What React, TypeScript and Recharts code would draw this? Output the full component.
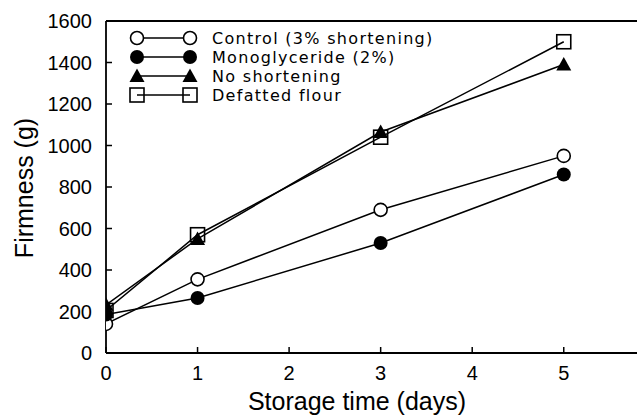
import React from "react";
import { Legend, Line, LineChart, ReferenceLine, XAxis, YAxis } from "recharts";

// storage time (days) and firmness (g) per formulation
const days = [0, 1, 3, 5];
const control = [140, 355, 690, 950];
const monoglyceride = [185, 265, 530, 860];
const noShortening = [232, 550, 1065, 1390];
const defatted = [205, 570, 1040, 1500];

const xTicks = [0, 1, 2, 3, 4, 5];
const yTicks = [0, 200, 400, 600, 800, 1000, 1200, 1400, 1600];

const seriesNames = [
  "Control (3% shortening)",
  "Monoglyceride (2%)",
  "No shortening",
  "Defatted flour",
];

const data = days.map((d, i) => ({
  day: d,
  control: control[i],
  mono: monoglyceride[i],
  none: noShortening[i],
  defatted: defatted[i],
}));

const FONT = "'Liberation Sans', Arial, sans-serif";
const LEGEND_FONT = "'DejaVu Sans', sans-serif";
const INK = "#000";

type Mark = "openCircle" | "filledCircle" | "triangle" | "square";
const marks: Mark[] = ["openCircle", "filledCircle", "triangle", "square"];

function Marker({ kind, cx, cy }: { kind: Mark; cx: number; cy: number }) {
  if (cx == null || cy == null) return null;
  switch (kind) {
    case "openCircle":
      return <circle cx={cx} cy={cy} r={6.5} fill="#fff" stroke={INK} strokeWidth={1.6} />;
    case "filledCircle":
      return <circle cx={cx} cy={cy} r={7} fill={INK} />;
    case "triangle":
      return (
        <polygon
          points={`${cx},${cy - 7.5} ${cx - 7.5},${cy + 6} ${cx + 7.5},${cy + 6}`}
          fill={INK}
        />
      );
    default:
      return (
        <rect x={cx - 7} y={cy - 7} width={14} height={14} fill="none" stroke={INK} strokeWidth={1.6} />
      );
  }
}

const dotFor = (kind: Mark) => (p: any) => (
  <Marker key={`${kind}-${p.index}`} kind={kind} cx={p.cx} cy={p.cy} />
);

const rowY = [10, 29, 48, 67];

function LegendBox() {
  return (
    <svg width={340} height={80} style={{ display: "block" }}>
      {seriesNames.map((name, i) => (
        <g key={name}>
          <line x1={12} x2={65} y1={rowY[i]} y2={rowY[i]} stroke={INK} strokeWidth={1.5} />
          <Marker kind={marks[i]} cx={12} cy={rowY[i]} />
          <Marker kind={marks[i]} cx={65} cy={rowY[i]} />
          <text
            x={87}
            y={rowY[i] + 6}
            fontSize={16}
            letterSpacing={1.3}
            fontFamily={LEGEND_FONT}
            fill={INK}
          >
            {name}
          </text>
        </g>
      ))}
    </svg>
  );
}

const tickStyle = { fill: INK, fontSize: 20, fontFamily: FONT };

export default function App() {
  return (
    <div style={{ position: "absolute", left: 0, top: 0, background: "#fff", fontFamily: FONT }}>
      <LineChart width={637} height={415} data={data} margin={{ top: 21, right: 0, bottom: 0, left: 0 }}>
        <XAxis
          dataKey="day"
          type="number"
          domain={[0, 5.8]}
          ticks={xTicks}
          allowDataOverflow
          height={62}
          axisLine={{ stroke: INK, strokeWidth: 1.8 }}
          tickLine={{ stroke: INK, strokeWidth: 1.5 }}
          tickSize={-6}
          tickMargin={19}
          tick={tickStyle}
          label={{
            content: () => (
              <text x={357} y={410} textAnchor="middle" fontSize={25} fontFamily={FONT} fill={INK}>
                Storage time (days)
              </text>
            ),
          }}
        />
        <YAxis
          type="number"
          domain={[0, 1600]}
          ticks={yTicks}
          width={106}
          axisLine={{ stroke: INK, strokeWidth: 1.8 }}
          tickLine={{ stroke: INK, strokeWidth: 1.5 }}
          tickSize={-6}
          tickMargin={20}
          tick={tickStyle}
          label={{
            content: () => (
              <text
                x={24}
                y={188}
                transform="rotate(-90, 24, 188)"
                textAnchor="middle"
                dominantBaseline="central"
                fontSize={25}
                fontFamily={FONT}
                fill={INK}
              >
                Firmness (g)
              </text>
            ),
          }}
        />
        <ReferenceLine y={1600} stroke={INK} strokeWidth={1.8} ifOverflow="extendDomain" />
        <Legend
          layout="vertical"
          align="center"
          verticalAlign="middle"
          wrapperStyle={{ position: "absolute", left: 125, top: 28, width: 340, height: 80 }}
          content={() => <LegendBox />}
        />
        <Line dataKey="control" stroke={INK} strokeWidth={1.5} dot={dotFor("openCircle")} isAnimationActive={false} />
        <Line dataKey="mono" stroke={INK} strokeWidth={1.5} dot={dotFor("filledCircle")} isAnimationActive={false} />
        <Line dataKey="defatted" stroke={INK} strokeWidth={1.5} dot={dotFor("square")} isAnimationActive={false} />
        <Line dataKey="none" stroke={INK} strokeWidth={1.5} dot={dotFor("triangle")} isAnimationActive={false} />
      </LineChart>
    </div>
  );
}
